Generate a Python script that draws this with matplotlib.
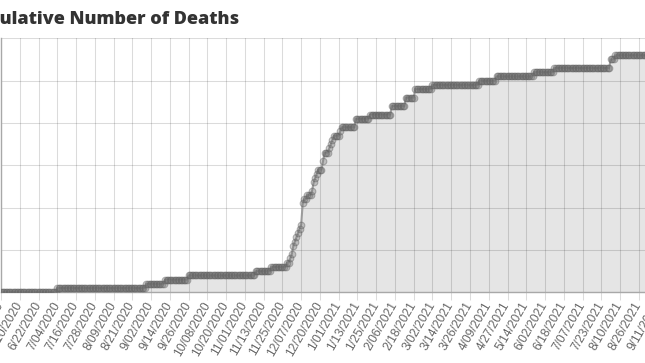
import numpy as np
import matplotlib
matplotlib.use("Agg")
import matplotlib.pyplot as plt

# ---- data ----
title_text = "Cumulative Number of Deaths"
tick_labels = ["5/29/2020", "6/10/2020", "6/22/2020", "7/04/2020", "7/16/2020", "7/28/2020",
               "8/09/2020", "8/21/2020", "9/02/2020", "9/14/2020", "9/26/2020", "10/08/2020",
               "10/20/2020", "11/01/2020", "11/13/2020", "11/25/2020", "12/07/2020", "12/20/2020",
               "1/01/2021", "1/13/2021", "1/25/2021", "2/06/2021", "2/18/2021", "3/02/2021",
               "3/14/2021", "3/26/2021", "4/09/2021", "4/27/2021", "5/14/2021", "6/02/2021",
               "6/18/2021", "7/07/2021", "7/23/2021", "8/10/2021", "8/26/2021", "9/11/2021"]
label_every = 12  # one label per 12 reported dates

# cumulative deaths as runs: value held for a number of reported dates
run_values = [0, 1, 2, 3, 4, 5, 6, 7, 8, 9, 11, 12, 13, 14, 15, 16, 21, 22, 23, 24, 26, 27,
              28, 29, 31, 33, 34, 35, 36, 37, 38, 39, 41, 42, 44, 46, 48, 49, 50, 51, 52, 53,
              55, 56]
run_lengths = [36, 57, 12, 15, 43, 10, 10, 2, 1, 1, 1, 1, 1, 1, 1, 1, 1, 2, 3, 1, 1, 1,
               1, 3, 1, 3, 1, 1, 1, 4, 1, 9, 9, 14, 9, 6, 11, 30, 11, 24, 13, 36,
               3, 33]
y_max, y_step = 60, 10

deaths = np.repeat(run_values, run_lengths)
x = np.arange(len(deaths))

# ---- figure ----
W, H = 645, 363
fig = plt.figure(figsize=(W / 100, H / 100), dpi=100)
left_px, right_px = 1.0, 1.0 + (len(deaths) - 1) * 1.5633
top_px, bot_px = 38.3, 292.3
ax = fig.add_axes([left_px / W, (H - bot_px) / H, (right_px - left_px) / W, (bot_px - top_px) / H])

ax.fill_between(x, 0, deaths, color=(0, 0, 0, 0.1), linewidth=0, zorder=2)
ax.plot(x, deaths, color=(0.55, 0.55, 0.55, 0.8), linewidth=1.5, zorder=3)
ax.plot(x, deaths, linestyle="none", marker="o", markersize=4.8,
        markerfacecolor=(0.45, 0.45, 0.45, 0.35), markeredgecolor=(0.35, 0.35, 0.35, 0.4),
        markeredgewidth=0.8, zorder=4)

ax.set_xlim(0, len(deaths) - 1)
ax.set_ylim(0, y_max)
ax.set_yticks(np.arange(0, y_max + 1, y_step))
ax.set_xticks(np.arange(0, len(tick_labels) * label_every, label_every))
ax.set_xticklabels(tick_labels, rotation=60, ha="right", va="center",
                   rotation_mode="anchor", family="Liberation Sans", fontsize=8.64, color="#666666")
ax.tick_params(axis="x", length=5.8, width=0.75, color="#dcdcdc", pad=2)
ax.tick_params(axis="y", length=0, labelleft=False)
ax.grid(True, color="black", alpha=0.14, linewidth=0.75, zorder=0)
ax.set_axisbelow(True)
for s in ["top", "right"]:
    ax.spines[s].set_visible(False)
for s in ["left", "bottom"]:
    ax.spines[s].set_color("#a8a8a8")
    ax.spines[s].set_linewidth(1.0)

# ---- title (left part falls outside the picture, as in the reference) ----
renderer = fig.canvas.get_renderer()
tfont = dict(family="Open Sans", weight="heavy", color="#333333")
probe_full = fig.text(0, 0, title_text, fontsize=14, **tfont)
probe_tail = fig.text(0, 0, title_text[3:], fontsize=14, **tfont)
w_full = probe_full.get_window_extent(renderer).width
w_tail = probe_tail.get_window_extent(renderer).width
probe_full.remove(); probe_tail.remove()
size = 14 * 242.0 / w_tail
shift = (w_full - w_tail) * size / 14
fig.text(-shift / W, (H - 24) / H, title_text, fontsize=size, va="baseline", ha="left", **tfont)

fig.savefig("out.png", dpi=100)
